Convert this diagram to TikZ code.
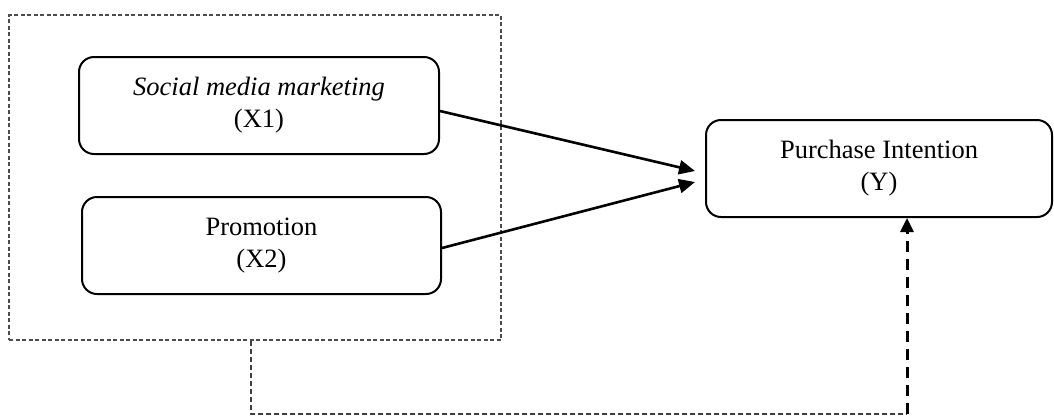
\documentclass[tikz,border=0pt]{standalone}
\usepackage{fontspec}
\setmainfont{Liberation Serif}
\usetikzlibrary{arrows.meta,calc}
\begin{document}
\begin{tikzpicture}[x=1pt,y=-1pt,
 box/.style={draw=black,line width=2pt,rounded corners=15pt,align=center,
   font=\fontsize{26.5}{32}\selectfont,inner sep=0pt,minimum height=97pt},
 grp/.style={draw=black!70,line width=1.4pt,dash pattern=on 4pt off 2.5pt,inner sep=0pt},
 link/.style={-{Triangle[length=16pt,width=14pt]},line width=2.6pt},
 feed/.style={draw=black!75,line width=1.4pt,dash pattern=on 5pt off 3pt},
 feedarrow/.style={-{Triangle[length=14pt,width=13pt]},line width=3pt,dash pattern=on 11pt off 7pt}]
\useasboundingbox (0,0) rectangle (1054,416);
\node[grp,minimum width=492pt,minimum height=325pt] (group) at (255,177.5) {};
\node[box,minimum width=360pt] (X1) at (259,105.5) {\textit{Social media marketing}\\(X1)};
\node[box,minimum width=359pt] (X2) at (261.5,245.5) {Promotion\\(X2)};
\node[box,minimum width=346pt] (Y) at (879,168.5) {Purchase Intention\\(Y)};
\coordinate (t1) at (695,171);
\coordinate (t2) at (695,182);
\draw[link] ([yshift=-5.5pt]X1.east) -- (t1);
\draw[link] ([yshift=-2.5pt]X2.east) -- (t2);
\coordinate (f1) at (251,414);
\coordinate (f2) at (907,414);
\draw[feed] (group.south -| f1) -- (f1) -- (f2);
\draw[feedarrow] (f2) -- (Y.south -| f2);
\end{tikzpicture}
\end{document}
